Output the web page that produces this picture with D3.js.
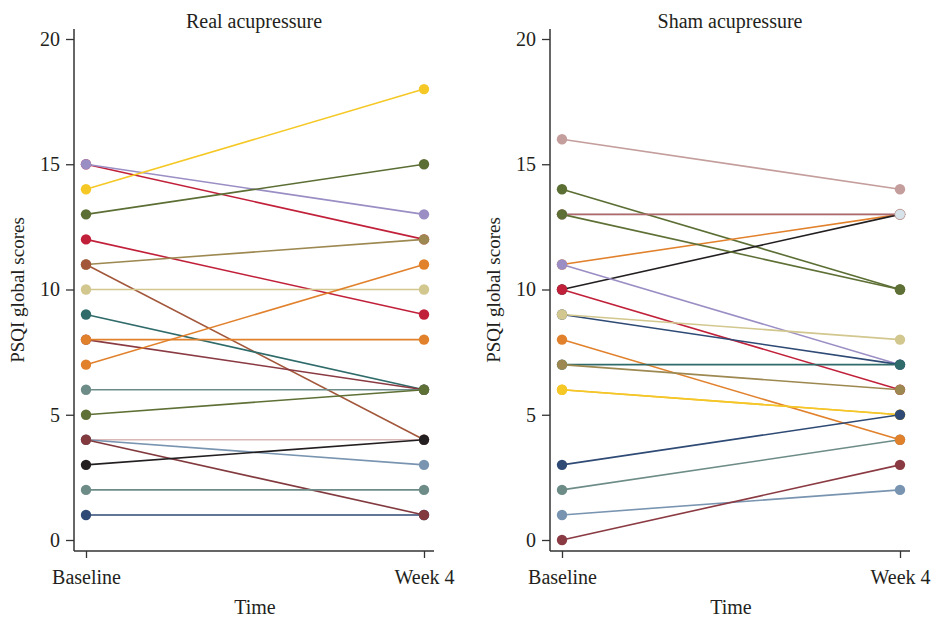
<!DOCTYPE html>
<html>
<head>
<meta charset="utf-8">
<script src="https://cdn.jsdelivr.net/npm/d3@7"></script>
<style>
  body { margin: 0; background: #fff; }
  text { font-family: "Liberation Serif", "DejaVu Serif", serif; fill: #231f20; }
</style>
</head>
<body>
<div id="chart"></div>
<script>
// Time points
const timePoints = ["Baseline", "Week 4"];
const yTicks = [0, 5, 10, 15, 20];

// Real acupressure: baseline, week 4, colour for each participant
const realBaseline = [1, 15, 15, 14, 13, 12, 11, 11, 10, 9, 8, 8, 7, 6, 5, 4, 4, 4, 3, 2];
const realWeek4    = [1, 12, 13, 18, 15, 9, 12, 4, 10, 6, 6, 8, 11, 6, 6, 4, 3, 1, 4, 2];
const realColors   = ["#2e4a75", "#c1203a", "#9b8ec4", "#f5c825", "#5b6e34", "#c1203a", "#9c8850", "#a2573a",
                      "#d2c78e", "#2f6b6a", "#8a3a42", "#e1812c", "#e1812c", "#6d8c87", "#5e7035", "#d9b7b7",
                      "#7894b0", "#823a3f", "#231f20", "#6d8c87"];

// Sham acupressure
const shamBaseline = [13, 2, 16, 14, 11, 10, 13, 13, 10, 11, 9, 9, 8, 7, 7, 6, 6, 3, 1, 0];
const shamWeek4    = [13, 4, 14, 10, 13, 13, 13, 10, 6, 7, 7, 8, 4, 7, 6, 5, 5, 5, 2, 3];
const shamColors   = ["#d6e3ea", "#6d8c87", "#c49e9c", "#5b6e34", "#e1812c", "#231f20", "#b06a6c", "#5e7035",
                      "#c1203a", "#9b8ec4", "#2e4a75", "#d2c78e", "#e1812c", "#2f6b6a", "#9c8850", "#f0b73a",
                      "#f5c825", "#2e4a75", "#7894b0", "#8a3a42"];

const panels = [
  { title: "Real acupressure", base: realBaseline, wk: realWeek4, colors: realColors, left: 74, topWk: -1 },
  { title: "Sham acupressure", base: shamBaseline, wk: shamWeek4, colors: shamColors, left: 550, topWk: 0 }
];

const width = 935, height = 620;
const axisY = 551, axisTop = 29;

const svg = d3.select("#chart").append("svg")
  .attr("width", width)
  .attr("height", height);

const y = d3.scaleLinear().domain([0, 20]).range([540, 39]);

panels.forEach(p => {
  const g = svg.append("g").attr("transform", `translate(${p.left},0)`);

  const x = d3.scalePoint().domain(timePoints).range([12, 350]);

  // axis lines
  g.append("line")
    .attr("x1", 0).attr("x2", 0)
    .attr("y1", axisTop).attr("y2", axisY)
    .attr("stroke", "#333").attr("stroke-width", 1.5);
  g.append("line")
    .attr("x1", 0).attr("x2", 360)
    .attr("y1", axisY).attr("y2", axisY)
    .attr("stroke", "#333").attr("stroke-width", 1.5);

  // y axis
  const yAxis = g.append("g")
    .call(d3.axisLeft(y).tickValues(yTicks).tickSize(8).tickPadding(6).tickSizeOuter(0));
  yAxis.select(".domain").remove();
  yAxis.selectAll(".tick line").attr("stroke", "#333").attr("stroke-width", 1.3);
  yAxis.selectAll(".tick text").style("font-size", "20px").attr("fill", "#231f20");

  // x axis
  const xAxis = g.append("g")
    .attr("transform", `translate(0,${axisY})`)
    .call(d3.axisBottom(x).tickSize(7).tickPadding(12).tickSizeOuter(0));
  xAxis.select(".domain").remove();
  xAxis.selectAll(".tick line").attr("stroke", "#333").attr("stroke-width", 1.3);
  xAxis.selectAll(".tick text").style("font-size", "20px").attr("fill", "#231f20");

  // titles
  g.append("text")
    .attr("x", 180).attr("y", 28)
    .attr("text-anchor", "middle")
    .style("font-size", "20px")
    .text(p.title);

  g.append("text")
    .attr("x", 181).attr("y", 614)
    .attr("text-anchor", "middle")
    .style("font-size", "20px")
    .text("Time");

  g.append("text")
    .attr("transform", "rotate(-90)")
    .attr("x", -290).attr("y", -50)
    .attr("text-anchor", "middle")
    .style("font-size", "19px")
    .text("PSQI global scores");

  const data = p.base.map((b, i) => ({ b, w: p.wk[i], c: p.colors[i] }));

  // lines
  g.selectAll("line.subj")
    .data(data)
    .enter()
    .append("line")
    .attr("class", "subj")
    .attr("x1", x("Baseline")).attr("x2", x("Week 4"))
    .attr("y1", d => y(d.b)).attr("y2", d => y(d.w))
    .attr("stroke", d => d.c)
    .attr("stroke-width", 1.6);

  // points
  g.selectAll("circle.b")
    .data(data)
    .enter()
    .append("circle")
    .attr("class", "b")
    .attr("cx", x("Baseline")).attr("cy", d => y(d.b))
    .attr("r", 5.2)
    .attr("fill", d => d.c);

  g.selectAll("circle.w")
    .data(data)
    .enter()
    .append("circle")
    .attr("class", "w")
    .attr("cx", x("Week 4")).attr("cy", d => y(d.w))
    .attr("r", 5.2)
    .attr("fill", d => d.c);

  // the pale point at 13 sits on top in the sham panel
  g.selectAll("circle.w").filter((d, i) => i === p.topWk)
    .attr("stroke", "#c49e9c").attr("stroke-width", 0.6)
    .raise();
});
</script>
</body>
</html>
